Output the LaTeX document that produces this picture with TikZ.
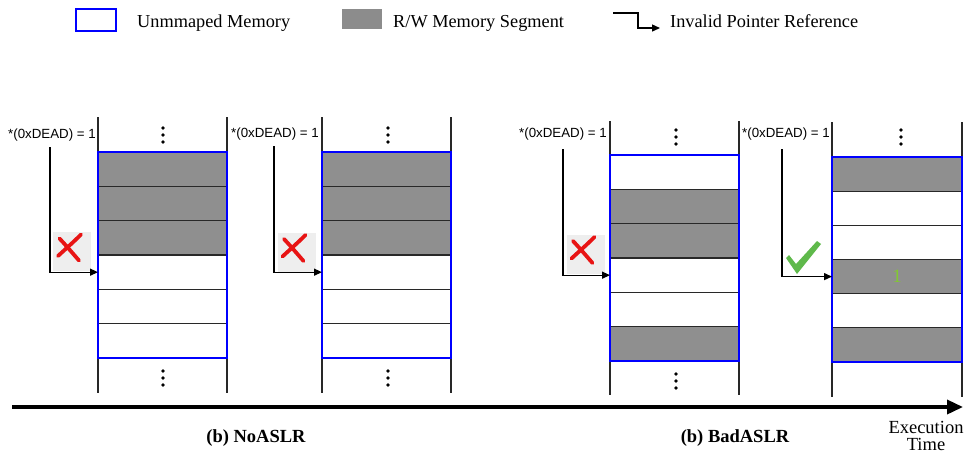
\documentclass[tikz,border=0pt]{standalone}
\usepackage{fontspec}
\setmainfont{Liberation Serif}
\newfontfamily\arialfont{Liberation Sans}
\usetikzlibrary{arrows.meta}
\definecolor{memgray}{RGB}{143,143,143}
\definecolor{leggray}{RGB}{140,140,140}
\definecolor{memblue}{RGB}{0,0,255}
\definecolor{xred}{RGB}{232,20,20}
\definecolor{okgreen}{RGB}{95,185,75}
\definecolor{onegreen}{RGB}{130,200,50}
\definecolor{linegray}{RGB}{40,40,40}
\definecolor{xbgcol}{RGB}{238,238,238}
\begin{document}
\begin{tikzpicture}[x=1pt,y=-1pt,
  memrow/.style={draw=linegray, line width=1.2pt, minimum width=129pt, minimum height=34.33pt, inner sep=0pt, outer sep=0pt},
  blueframe/.style={draw=memblue, line width=2pt},
  wall/.style={draw=linegray, line width=1.4pt},
  ptr/.style={draw=black, line width=1.3pt, -{Triangle[length=8pt,width=7pt]}},
  deadlbl/.style={font=\arialfont\fontsize{13.3}{15}\selectfont, anchor=base east, inner sep=0pt},
  legtext/.style={font=\fontsize{18.3}{20}\selectfont, anchor=base west, inner sep=0pt},
  captiontext/.style={font=\bfseries\fontsize{18.5}{20}\selectfont, anchor=base, inner sep=0pt},
  xbg/.style={fill=xbgcol, minimum width=38pt, minimum height=39pt, inner sep=0pt},
  xstroke/.style={draw=xred, line width=3.8pt, line cap=round},
  crossmark/.pic={
    \draw[xstroke] (9,-17) .. controls (0,-8) and (-6,-3) .. (-14,4.5);
    \draw[xstroke] (-12.5,-13) .. controls (-5,-5) and (0,1) .. (7,9);
  },
  checkmark/.pic={
    \fill[okgreen] (-7,-18) -- (-4,-21) -- (3,-12) -- (24,-35) -- (28,-32) -- (4,-2) -- cycle;
  }
  ]
\useasboundingbox (0,0) rectangle (965,459);

% ---------- legend ----------
\node[draw=memblue, line width=2pt, minimum width=40pt, minimum height=22pt, inner sep=0pt] (lgunm) at (96,20) {};
\node[legtext] (lgunmt) at (137,27) {Unmmaped Memory};
\node[fill=leggray, minimum width=40pt, minimum height=20pt, inner sep=0pt] (lgrw) at (362,19) {};
\node[legtext] (lgrwt) at (393,27) {R/W Memory Segment};
\coordinate (lgpa) at (613,13);
\coordinate (lgpb) at (660,28);
\draw[ptr] (lgpa) -- ++(25,0) |- (lgpb);
\node[legtext] (lgptrt) at (670,27) {Invalid Pointer Reference};

% ---------- column 1 (NoASLR) ----------
\draw[wall] (98,117) -- (98,393);
\draw[wall] (227,117) -- (227,393);
\foreach \f [count=\i] in {memgray,memgray,memgray,white,white,white}
  \node[memrow, fill=\f] (c1r\i) at (162.5,{152+(\i-0.5)*34.33}) {};
\draw[blueframe] (c1r1.north west) rectangle (c1r6.south east);
\foreach \y in {128,135,142,371,378,385} \fill (163,\y) circle (1.9);
\node[deadlbl] (d1) at (96,138) {*(0xDEAD) = 1};
\coordinate (p1) at (50,147);
\node[xbg] (xb1) at (72,251.5) {};
\pic at (xb1.center) {crossmark};
\draw[ptr] (p1) |- (c1r4.west);

% ---------- column 2 (NoASLR) ----------
\draw[wall] (322,117) -- (322,393);
\draw[wall] (451,117) -- (451,393);
\foreach \f [count=\i] in {memgray,memgray,memgray,white,white,white}
  \node[memrow, fill=\f] (c2r\i) at (386.5,{152+(\i-0.5)*34.33}) {};
\draw[blueframe] (c2r1.north west) rectangle (c2r6.south east);
\foreach \y in {128,135,142,371,378,385} \fill (388,\y) circle (1.9);
\node[deadlbl] (d2) at (319,137) {*(0xDEAD) = 1};
\coordinate (p2) at (274,146);
\node[xbg] (xb2) at (296.5,252) {};
\pic at (xb2.center) {crossmark};
\draw[ptr] (p2) |- (c2r4.west);

% ---------- column 3 (BadASLR) ----------
\draw[wall] (610,121) -- (610,395);
\draw[wall] (739,121) -- (739,395);
\foreach \f [count=\i] in {white,memgray,memgray,white,white,memgray}
  \node[memrow, fill=\f] (c3r\i) at (674.5,{155+(\i-0.5)*34.33}) {};
\draw[blueframe] (c3r1.north west) rectangle (c3r6.south east);
\foreach \y in {130,137,144,374,381,388} \fill (676,\y) circle (1.9);
\node[deadlbl] (d3) at (607,137) {*(0xDEAD) = 1};
\coordinate (p3) at (563,149);
\node[xbg] (xb3) at (585.5,254) {};
\pic at (xb3.center) {crossmark};
\draw[ptr] (p3) |- (c3r4.west);

% ---------- column 4 (BadASLR) ----------
\draw[wall] (832,122) -- (832,397);
\draw[wall] (962,122) -- (962,397);
\foreach \f [count=\i] in {memgray,white,white,memgray,white,memgray}
  \node[memrow, fill=\f, minimum width=130pt, minimum height=34.17pt] (c4r\i) at (897,{157+(\i-0.5)*34.17}) {};
\draw[blueframe] (c4r1.north west) rectangle (c4r6.south east);
\foreach \y in {130,137,144} \fill (901,\y) circle (1.9);
\node[deadlbl] (d4) at (830,137) {*(0xDEAD) = 1};
\coordinate (p4) at (782,149);
\pic at (793,276) {checkmark};
\draw[ptr] (p4) |- (c4r4.west);
\node[font=\fontsize{19}{19}\selectfont, text=onegreen, inner sep=0pt] (one) at (c4r4.center) {1};

% ---------- timeline ----------
\coordinate (t0) at (12,407);
\coordinate (t1) at (963,407);
\draw[line width=3.5pt, -{Triangle[length=16pt,width=14pt]}] (t0) -- (t1);
\node[captiontext] (capno) at (256,442) {(b) NoASLR};
\node[captiontext] (capbad) at (735,442) {(b) BadASLR};
\node[font=\fontsize{18.5}{17}\selectfont, align=center, inner sep=0pt] (exec) at (926,436) {Execution\\Time};
\end{tikzpicture}
\end{document}
